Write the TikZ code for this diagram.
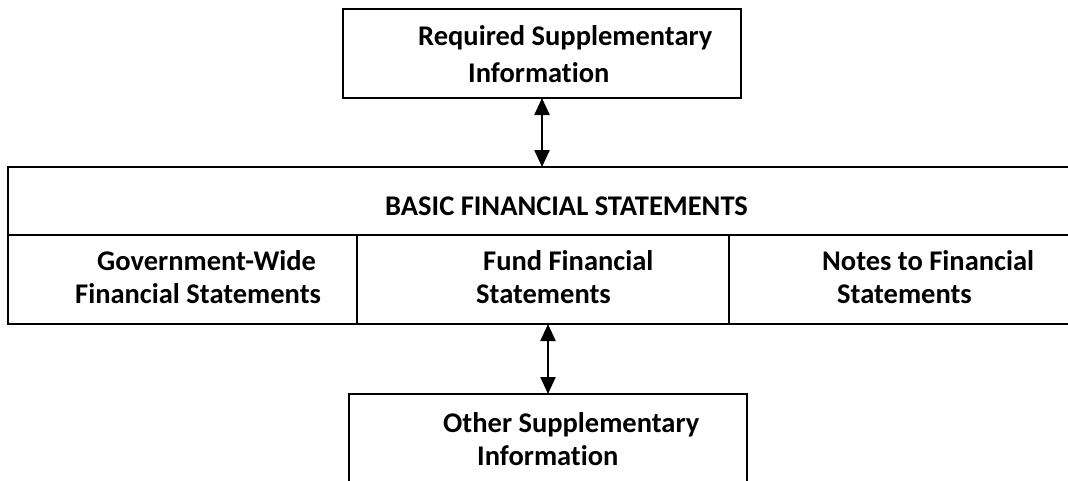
\documentclass[tikz,border=0pt]{standalone}
\usepackage{fontspec}
\setmainfont{Carlito}[Ligatures={NoCommon}]
\usetikzlibrary{arrows.meta}
\tikzset{
  box/.style={draw, line width=1.4pt, inner sep=0pt, outer sep=0pt, anchor=north west},
  lbl/.style={inner sep=0pt, anchor=base west, font=\fontsize{28.5}{34}\selectfont\bfseries},
  link/.style={line width=2.2pt, {Triangle[width=15pt,length=17pt]}-{Triangle[width=15pt,length=17pt]}}
}
\begin{document}
\begin{tikzpicture}[x=1pt,y=-1pt]
\useasboundingbox (0,0) rectangle (1068,480);
\clip (0,0) rectangle (1068,480);
% boxes
\node[box, minimum width=398pt, minimum height=89pt] (rsi) at (343,9) {};
\node[box, minimum width=1080pt, minimum height=157pt] (bfs) at (8,167) {};
\node[box, minimum width=398pt, minimum height=120pt] (osi) at (349,394) {};
\coordinate (divy) at (8,235);
\coordinate (divr) at (1090,235);
\draw[line width=1.4pt] (divy) -- (divr);
\coordinate (d1t) at (357,235);
\coordinate (d2t) at (729,235);
\draw[line width=1.4pt] (d1t) -- (d1t |- bfs.south);
\draw[line width=1.4pt] (d2t) -- (d2t |- bfs.south);
% texts
\node[lbl] (t1) at (418,45) {Required Supplementary};
\node[lbl] (t2) at (468,82) {Information};
\node[lbl] (t3) at (385,215) {BASIC FINANCIAL STATEMENTS};
\node[lbl] (t4) at (97,270) {Government-Wide};
\node[lbl] (t5) at (75,303) {Financial Statements};
\node[lbl] (t6) at (483,270) {Fund Financial};
\node[lbl] (t7) at (476,303) {Statements};
\node[lbl] (t8) at (822,270) {Notes to Financial};
\node[lbl] (t9) at (837,303) {Statements};
\node[lbl] (t10) at (443,432) {Other Supplementary};
\node[lbl] (t11) at (477,465) {Information};
% connectors
\draw[link] (rsi.south) -- (rsi.south |- bfs.north);
\draw[link] (osi.north) -- (osi.north |- bfs.south);
\end{tikzpicture}
\end{document}
